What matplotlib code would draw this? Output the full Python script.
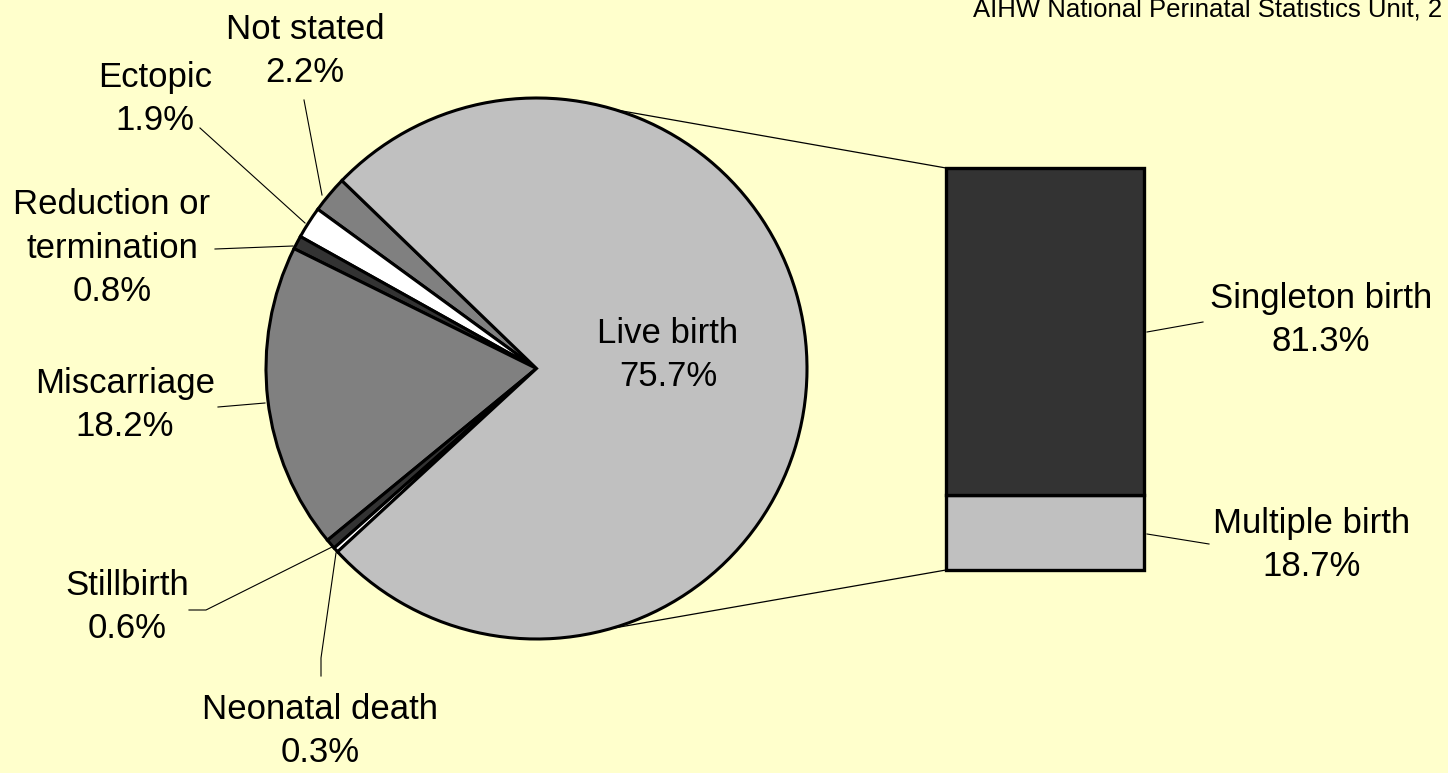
import matplotlib.pyplot as plt
import numpy as np

plt.rcParams['font.family'] = ['Liberation Sans', 'DejaVu Sans']

# pie: pregnancy outcomes (%), counter-clockwise from upper left
outcomes = ["Not stated", "Ectopic", "Reduction or\ntermination", "Miscarriage",
            "Stillbirth", "Neonatal death", "Live birth"]
outcome_pct = [2.2, 1.9, 0.8, 18.2, 0.6, 0.3, 75.7]
outcome_colors = ["#808080", "#FFFFFF", "#333333", "#808080", "#333333", "#FFFFFF", "#C0C0C0"]

# bar: breakdown of live births (%)
births = ["Multiple birth", "Singleton birth"]
birth_pct = [18.7, 81.3]
birth_colors = ["#C0C0C0", "#333333"]

W, H = 1448, 773
fig = plt.figure(figsize=(W / 100, H / 100), dpi=100, facecolor="#FFFFCC")
ax = fig.add_axes([0, 0, 1, 1])
ax.set_facecolor("#FFFFCC")

def Y(py):
    # pixel row -> data y
    return H - py

cx, cy, r = 536.5, Y(368.5), 270.5
ax.pie(outcome_pct, colors=outcome_colors, startangle=136, counterclock=True,
       center=(cx, cy), radius=r,
       wedgeprops=dict(edgecolor="black", linewidth=2.2), normalize=True)

# bar of pie
bar_x, bar_w, bar_bottom, bar_h = 1045, 198, Y(570), 402
heights = np.array(birth_pct) / 100 * bar_h
bottoms = bar_bottom + np.concatenate([[0], np.cumsum(heights)[:-1]])
ax.bar([bar_x] * len(births), heights, width=bar_w, bottom=bottoms,
       color=birth_colors, edgecolor="black", linewidth=2.4, zorder=3)

# connector lines between pie and bar
for ang, corner in [(73, (946, 168)), (-74, (946, 570))]:
    t = np.radians(ang)
    ax.plot([cx + r * np.cos(t), corner[0]], [cy + r * np.sin(t), Y(corner[1])],
            color="black", lw=0.9, zorder=0.5)

fs = 25
labels = [
    ("Not stated\n2.2%", (305, 51), [(304, 100), (322, 195)]),
    ("Ectopic\n1.9%", (155, 99), [(200, 128), (305, 223)]),
    ("Reduction or\ntermination\n0.8%", (112, 248), [(215, 249), (293, 246)]),
    ("Miscarriage\n18.2%", (125, 405), [(218, 407), (265, 403)]),
    ("Stillbirth\n0.6%", (127, 607), [(189, 610), (206, 610), (332, 547)]),
    ("Neonatal death\n0.3%", (320, 731), [(321, 676), (321, 658), (336, 553)]),
    ("Live birth\n75.7%", (668, 355), None),
    ("Singleton birth\n81.3%", (1321, 320), [(1147, 332), (1203, 322)]),
    ("Multiple birth\n18.7%", (1312, 545), [(1147, 534), (1209, 544)]),
]
for txt, (px, py), leader in labels:
    ax.text(px, Y(py), txt, ha="center", va="center", fontsize=fs,
            linespacing=1.4, zorder=5)
    if leader:
        xs = [p[0] for p in leader]
        ys = [Y(p[1]) for p in leader]
        ax.plot(xs, ys, color="black", lw=0.8, zorder=0.5)

ax.text(973, Y(17), "AIHW National Perinatal Statistics Unit, 2", fontsize=18.5,
        ha="left", va="baseline")

ax.set_xlim(0, W)
ax.set_ylim(0, H)
ax.set_aspect("equal")
ax.axis("off")

fig.savefig("out.png", dpi=100, facecolor="#FFFFCC")
